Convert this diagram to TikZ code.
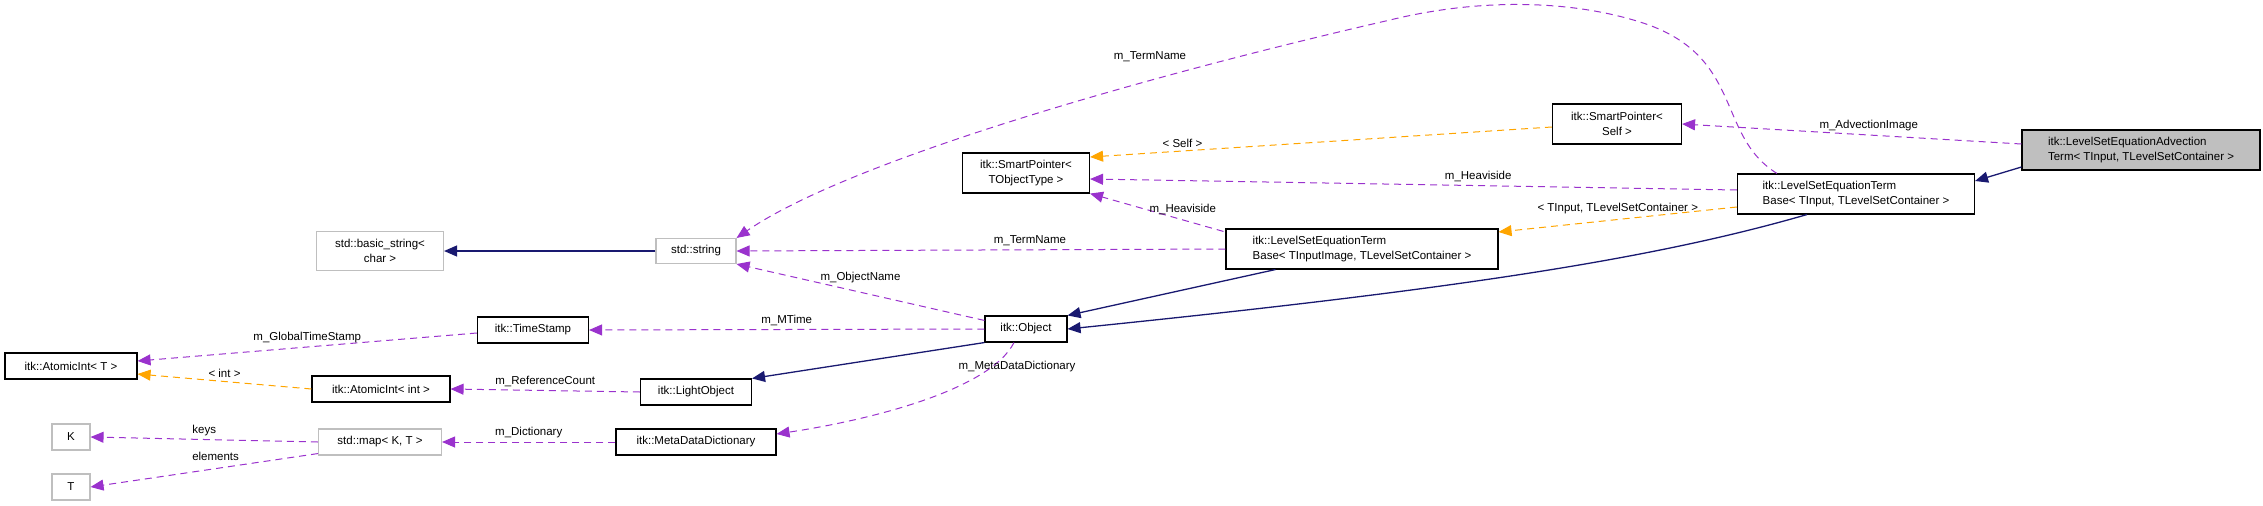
\documentclass[tikz,border=0pt]{standalone}
\usepackage{fontspec}
\setmainfont{Liberation Sans}
\usetikzlibrary{arrows.meta}
\definecolor{pur}{HTML}{9A32CD}
\definecolor{ora}{HTML}{FFA500}
\definecolor{nav}{HTML}{191970}
\definecolor{gbd}{HTML}{BFBFBF}
\begin{document}
\begin{tikzpicture}[x=1pt,y=-1pt,
  box/.style={draw=black,line width=1.1pt,inner sep=3pt,font=\fontsize{11.5}{15}\selectfont,align=left,anchor=center},
  gbox/.style={box,draw=gbd},
  mem/.style={pur,dashed,dash pattern=on 7pt off 5pt,line width=1pt,-{Triangle[length=13pt,width=11pt]}},
  tpl/.style={mem,ora},
  inh/.style={nav,line width=1.3pt,-{Triangle[length=13pt,width=11pt]}},
  lab/.style={font=\fontsize{11.5}{13}\selectfont,text=black}]
\useasboundingbox (0,0) rectangle (2263,506);
\node[box,fill=gbd,minimum width=238,minimum height=40] (adv) at (2141,150) {itk::LevelSetEquationAdvection\\Term< TInput, TLevelSetContainer >};
\node[box,minimum width=237,minimum height=40] (tbi) at (1856,194) {itk::LevelSetEquationTerm\\Base< TInput, TLevelSetContainer >};
\node[box,minimum width=129,minimum height=40,align=center] (sps) at (1617,124) {itk::SmartPointer<\\Self >};
\node[box,minimum width=127,minimum height=40,align=center] (spt) at (1026,173) {itk::SmartPointer<\\TObjectType >};
\node[box,minimum width=272,minimum height=40] (tbm) at (1362,249) {itk::LevelSetEquationTerm\\Base< TInputImage, TLevelSetContainer >};
\node[gbox,minimum width=80,minimum height=25] (str) at (696,251) {std::string};
\node[gbox,minimum width=127,minimum height=39,align=center] (bs) at (380,251) {std::basic\_string<\\char >};
\node[box,minimum width=82,minimum height=26] (obj) at (1026,329) {itk::Object};
\node[box,minimum width=111,minimum height=26] (ts) at (533,330) {itk::TimeStamp};
\node[box,minimum width=132,minimum height=26] (ait) at (71,366) {itk::AtomicInt< T >};
\node[box,minimum width=138,minimum height=26] (aii) at (381,389) {itk::AtomicInt< int >};
\node[box,minimum width=111,minimum height=26] (lo) at (696,392) {itk::LightObject};
\node[gbox,minimum width=38,minimum height=26] (k) at (71,437) {K};
\node[gbox,minimum width=38,minimum height=26] (t) at (71,487) {T};
\node[gbox,minimum width=123,minimum height=26] (map) at (380,442) {std::map< K, T >};
\node[box,minimum width=160,minimum height=26] (mdd) at (696,442) {itk::MetaDataDictionary};

\draw[inh] (adv.west|-2025,167) -- (tbi.east|-1975,181);
\draw[mem] (adv.west|-2025,144) -- node[lab,above,pos=0.45]{m\_AdvectionImage} (sps.east|-1682,124);
\draw[mem] (tbi.west|-1738,190) -- node[lab,above,pos=0.4]{m\_Heaviside} (spt.east|-1090,179);
\draw[tpl] (sps.west|-1553,127) -- node[lab,above,pos=0.8]{< Self >} (spt.east|-1090,157);
\draw[tpl] (tbi.west|-1738,207) -- node[lab,above,pos=0.5,yshift=2]{< TInput, TLevelSetContainer >} (tbm.east|-1498,232);
\draw[mem] (tbi.north west) ++(40,0) coordinate (c1)
  (c1) .. controls (1715,135) and (1745,55) .. (1640,22)
  .. controls (1570,0) and (1480,-2) .. (1390,20)
  .. controls (1150,75) and (850,160) .. (str.north east);
\node[lab] (l1) at (1150,57) {m\_TermName};
\draw[mem] (tbm.north west) ++(-2,3) coordinate (c2) (c2) -- node[lab,above,pos=0.35,xshift=6]{m\_Heaviside} (spt.south east);
\draw[mem] (tbm.west) -- node[lab,above,pos=0.4]{m\_TermName} (str.east);
\draw[inh] (str.west) -- (bs.east);
\draw[mem] (obj.north west) ++(0,5) coordinate (c3) (c3) -- node[lab,above,pos=0.5,yshift=6]{m\_ObjectName} (str.south east);
\draw[inh] (tbm.south west) ++(50,0) coordinate (c4) (c4) -- (obj.north east);
\draw[inh] (tbi.south west) ++(70,0) coordinate (c5) (c5) .. controls (1650,260) and (1450,290) .. (obj.east);
\draw[mem] (obj.west) -- node[lab,above,pos=0.5]{m\_MTime} (ts.east);
\draw[mem] (ts.west) ++(0,3) coordinate (c6) (c6) -- node[lab,above,pos=0.5]{m\_GlobalTimeStamp} (ait.east|-137,361);
\draw[tpl] (aii.west) -- node[lab,above,pos=0.5]{< int >} (ait.east|-137,374);
\draw[mem] (lo.west) -- node[lab,above,pos=0.5]{m\_ReferenceCount} (aii.east);
\draw[inh] (obj.south west) -- (lo.north east);
\draw[mem] (obj.south) ++(-12,0) coordinate (c7) (c7) .. controls (990,390) and (870,420) .. (mdd.east|-776,434);
\node[lab] (l2) at (1017,367) {m\_MetaDataDictionary};
\draw[mem] (mdd.west) -- node[lab,above,pos=0.5]{m\_Dictionary} (map.east);
\draw[mem] (map.west) -- node[lab,above,pos=0.5]{keys} (k.east);
\draw[mem] (map.south west) ++(0,-2) coordinate (c8) (c8) -- node[lab,above,pos=0.45,yshift=4]{elements} (t.east);
\end{tikzpicture}
\end{document}
